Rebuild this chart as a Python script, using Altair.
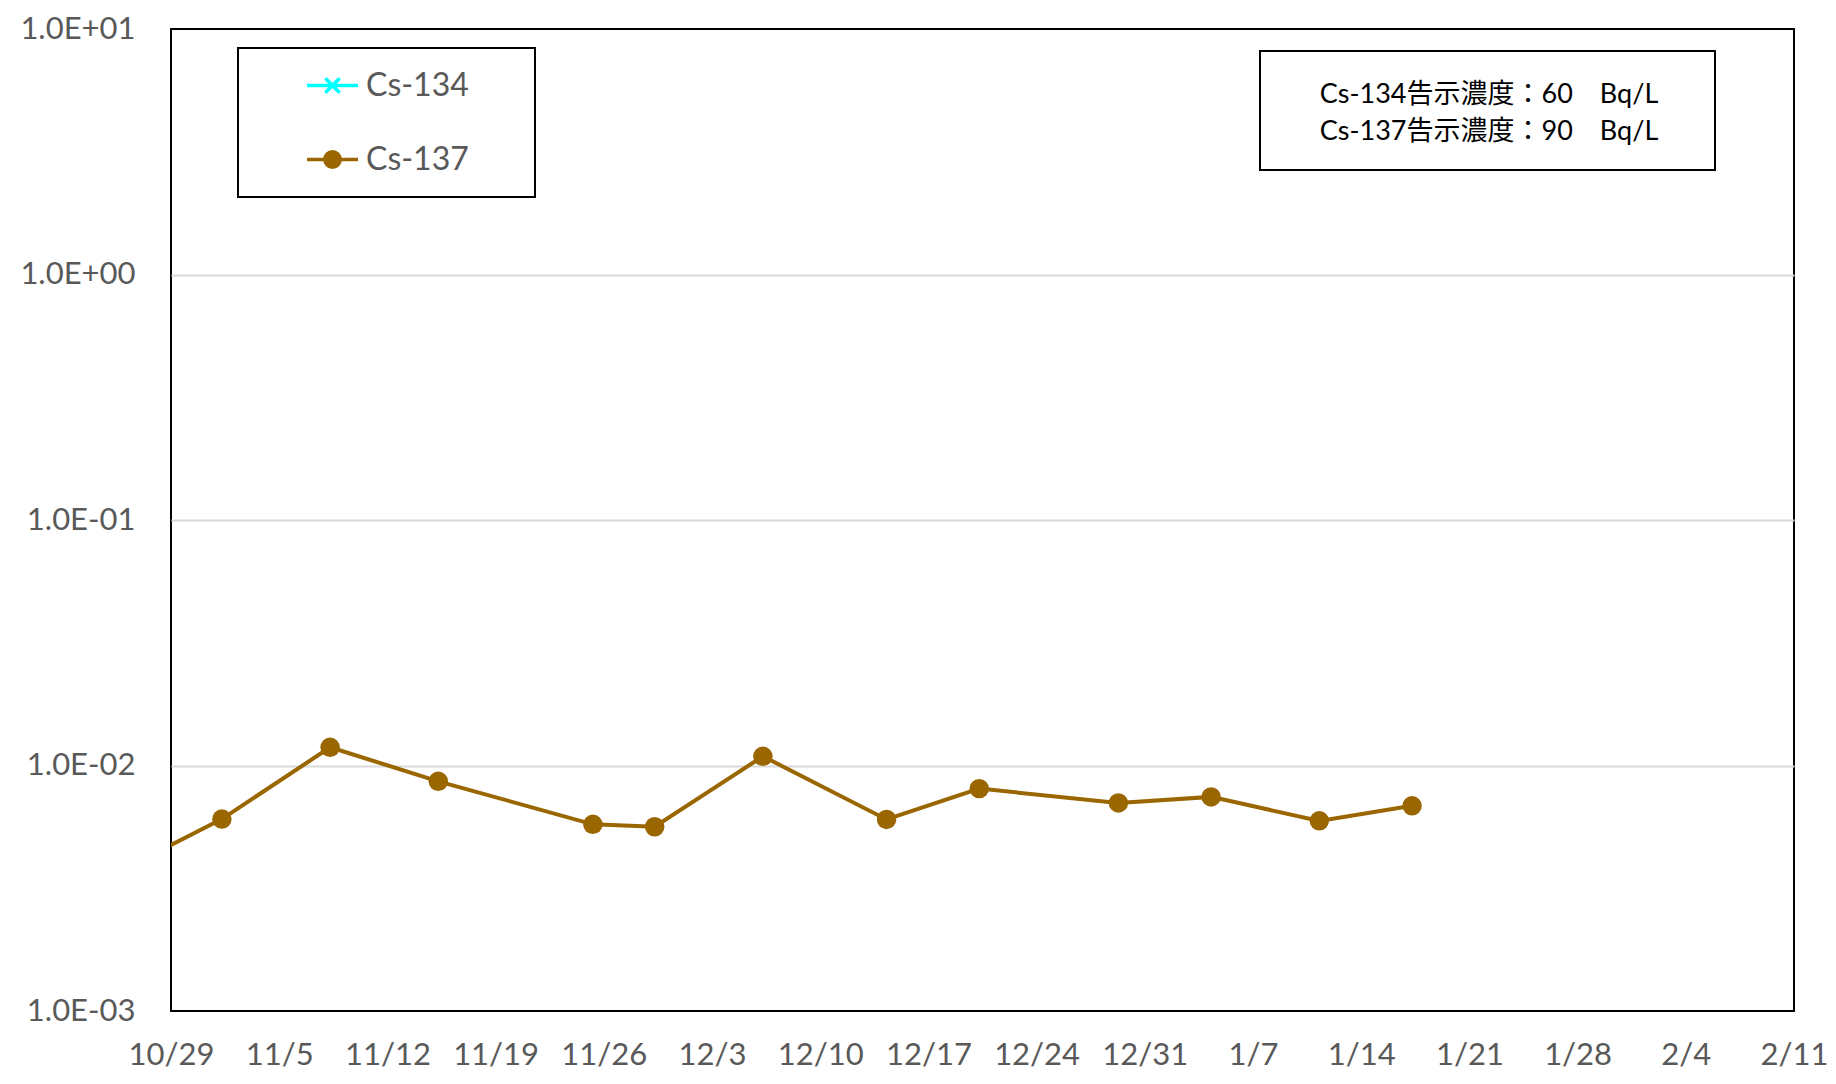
import json
import altair as alt
import pandas as pd

# ---------------- data ----------------
# Cs-137 weekly results (Bq/L). The first sample lies before the plotted range and is clipped.
cs137_dates = [
    "2023-10-25T07:00:00", "2023-11-01T07:00:00", "2023-11-08T07:00:00",
    "2023-11-15T07:00:00", "2023-11-25T07:00:00", "2023-11-29T07:00:00",
    "2023-12-06T07:00:00", "2023-12-14T07:00:00", "2023-12-20T07:00:00",
    "2023-12-29T07:00:00", "2024-01-04T07:00:00", "2024-01-11T07:00:00",
    "2024-01-17T07:00:00",
]
cs137_values = [
    0.0036, 0.00605, 0.01186,
    0.00862, 0.00576, 0.00563,
    0.01090, 0.00603, 0.00805,
    0.00704, 0.00745, 0.00595,
    0.00685,
]
# Cs-134: no detected values in this period (legend entry only)
cs134_dates = []
cs134_values = []

series_names = ["Cs-134", "Cs-137"]
series_colors = ["#00FFFF", "#996600"]

x_domain = [(2023, 10, 29), (2024, 2, 11)]
x_tick_dates = [
    (2023, 10, 29), (2023, 11, 5), (2023, 11, 12), (2023, 11, 19), (2023, 11, 26),
    (2023, 12, 3), (2023, 12, 10), (2023, 12, 17), (2023, 12, 24), (2023, 12, 31),
    (2024, 1, 7), (2024, 1, 14), (2024, 1, 21), (2024, 1, 28), (2024, 2, 4),
    (2024, 2, 11),
]
y_tick_values = [0.001, 0.01, 0.1, 1, 10]
y_tick_labels = ["1.0E-03", "1.0E-02", "1.0E-01", "1.0E+00", "1.0E+01"]

notes = ["Cs-134告示濃度：60\u3000Bq/L", "Cs-137告示濃度：90\u3000Bq/L"]

# ---------------- table ----------------
df = pd.DataFrame({
    "date": cs134_dates + cs137_dates,
    "value": cs134_values + cs137_values,
    "series": [series_names[0]] * len(cs134_dates) + [series_names[1]] * len(cs137_dates),
})


def dt(t):
    return alt.DateTime(year=t[0], month=t[1], date=t[2])


W, H = 1623, 982
FONT = "Lato"
LABEL_GRAY = "#595959"
BROWN = series_colors[1]
CYAN = series_colors[0]
AXIS_FS = 31

x_enc = alt.X(
    "date:T",
    scale=alt.Scale(domain=[dt(x_domain[0]), dt(x_domain[1])], nice=False),
    axis=alt.Axis(
        values=[dt(t) for t in x_tick_dates], format="%-m/%-d", title=None,
        grid=False, ticks=False, domain=False, labelFont=FONT, labelFontSize=AXIS_FS,
        labelColor=LABEL_GRAY, labelPadding=29, labelFlush=False, labelOverlap=False,
    ),
)
label_expr = f"{json.dumps(y_tick_labels)}[indexof({json.dumps(y_tick_values)}, datum.value)]"
y_enc = alt.Y(
    "value:Q",
    scale=alt.Scale(type="log", domain=[y_tick_values[0], y_tick_values[-1]], nice=False),
    axis=alt.Axis(
        values=y_tick_values, labelExpr=label_expr, title=None, grid=True,
        gridColor="#d9d9d9", gridWidth=2,
        gridOpacity=alt.condition(
            f"datum.value == {y_tick_values[0]} || datum.value == {y_tick_values[-1]}",
            alt.value(0), alt.value(1)),
        ticks=False, domain=False, labelFont=FONT, labelFontSize=AXIS_FS,
        labelColor=LABEL_GRAY, labelPadding=36, labelFlush=False, labelOverlap=False,
    ),
)

# ---------------- decorations: legend frame & notice box ----------------
one = pd.DataFrame({"k": [0]})
legend_box = alt.Chart(one).mark_rect(fill="white", stroke="black", strokeWidth=2).encode(
    x=alt.value(67), x2=alt.value(364), y=alt.value(19), y2=alt.value(168))
note_box = alt.Chart(one).mark_rect(fill="white", stroke="black", strokeWidth=2).encode(
    x=alt.value(1089), x2=alt.value(1544), y=alt.value(22), y2=alt.value(141))
note_font = "Lato, 'Noto Sans CJK JP'"
note_text1 = alt.Chart(pd.DataFrame({"note": [notes[0]]})).mark_text(
    font=note_font, fontSize=27, align="center", baseline="middle", color="black"
).encode(text="note:N", x=alt.value(1318), y=alt.value(66))
note_text2 = alt.Chart(pd.DataFrame({"note": [notes[1]]})).mark_text(
    font=note_font, fontSize=27, align="center", baseline="middle", color="black"
).encode(text="note:N", x=alt.value(1318), y=alt.value(103))

# ---------------- data marks ----------------
data137 = alt.Chart(df).transform_filter(alt.datum.series == series_names[1])
line = data137.mark_line(color=BROWN, strokeWidth=4, clip=True).encode(x=x_enc, y=y_enc)
points = data137.mark_point(color=BROWN, filled=True, opacity=1, size=380, shape="circle",
                            clip=True).encode(x=x_enc, y=y_enc)

# ---------------- legend (native legends, invisible carrier layers) ----------------
p134 = "M-1,0L1,0M-0.28,-0.28L0.28,0.28M-0.28,0.28L0.28,-0.28"
p137 = "M-1,0L1,0M-0.3,0A0.3,0.3,0,1,1,0.3,0A0.3,0.3,0,1,1,-0.3,0Z"
common_legend = dict(
    title=None, orient="none", symbolSize=2601, symbolStrokeWidth=3.5, symbolOpacity=1,
    labelFont=FONT, labelFontSize=32, labelColor=LABEL_GRAY, labelOffset=6, padding=0,
)
leg134 = alt.Chart(df).transform_filter(alt.datum.series == series_names[0]).mark_point(
    opacity=0, filled=False
).encode(
    x=x_enc, y=y_enc,
    stroke=alt.Stroke("series:N", scale=alt.Scale(domain=[series_names[0]], range=[CYAN]),
                      legend=alt.Legend(symbolType=p134, legendX=134, legendY=29,
                                        **common_legend)),
)
leg137 = alt.Chart(df).transform_filter(alt.datum.series == series_names[1]).mark_point(
    opacity=0, filled=True
).encode(
    x=x_enc, y=y_enc,
    fill=alt.Fill("series:N", scale=alt.Scale(domain=[series_names[1]], range=[BROWN]),
                  legend=alt.Legend(symbolType=p137, symbolStrokeColor=BROWN,
                                    legendX=134, legendY=103, **common_legend)),
)

chart = alt.layer(
    legend_box, note_box, note_text1, note_text2, line, points, leg134, leg137
).properties(
    width=W, height=H,
    autosize=alt.AutoSizeParams(type="none"),
    padding={"left": 163, "top": 21, "right": 34, "bottom": 61},
    background="white",
).configure_view(stroke="black", strokeWidth=2)

chart.save("out.html", embed_options={"renderer": "svg", "actions": False})
